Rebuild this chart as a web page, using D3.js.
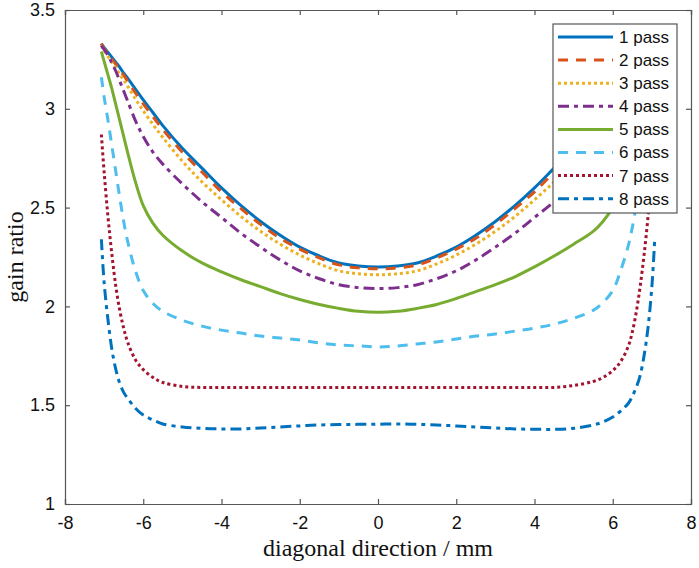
<!DOCTYPE html>
<html>
<head>
<meta charset="utf-8">
<script src="https://cdn.jsdelivr.net/npm/d3@7"></script>
<style>
  body { margin: 0; background: #fff; }
  svg { display: block; }
</style>
</head>
<body>
<script>
// chart size
var w = 699, h = 568;
var margin = { left: 65, right: 8, top: 10, bottom: 64 };

// position along the diagonal (mm)
var pos = [-7.07, -7, -6.9, -6.8, -6.7, -6.6, -6.5, -6.4, -6.2, -6, -5.75, -5.5, -5, -4.5, -4, -3.5, -3, -2.5, -2, -1.5, -1, -0.5,
           0, 0.5, 1, 1.5, 2, 2.5, 3, 3.5, 4, 4.5, 5, 5.5, 5.75, 6, 6.2, 6.4, 6.5, 6.6, 6.7, 6.8, 6.9, 7, 7.07];

// gain ratio for each pass
var pass1 = [3.33, 3.31, 3.285, 3.26, 3.235, 3.21, 3.18, 3.155, 3.10, 3.045, 2.98, 2.915, 2.80, 2.70, 2.60, 2.51, 2.43, 2.36, 2.30, 2.255, 2.22, 2.205,
             2.20, 2.205, 2.22, 2.255, 2.30, 2.36, 2.43, 2.51, 2.60, 2.70, 2.80, 2.915, 2.98, 3.045, 3.10, 3.155, 3.18, 3.21, 3.235, 3.26, 3.285, 3.31, 3.33];
var pass2 = [3.33, 3.305, 3.28, 3.25, 3.225, 3.195, 3.17, 3.14, 3.08, 3.025, 2.96, 2.895, 2.78, 2.68, 2.58, 2.495, 2.415, 2.345, 2.29, 2.245, 2.21, 2.195,
             2.19, 2.195, 2.21, 2.245, 2.29, 2.345, 2.415, 2.495, 2.58, 2.68, 2.78, 2.895, 2.96, 3.025, 3.08, 3.14, 3.17, 3.195, 3.225, 3.25, 3.28, 3.305, 3.33];
var pass3 = [3.32, 3.295, 3.265, 3.235, 3.205, 3.175, 3.145, 3.115, 3.05, 2.99, 2.92, 2.855, 2.735, 2.63, 2.54, 2.455, 2.38, 2.315, 2.26, 2.215, 2.18, 2.165,
             2.16, 2.165, 2.18, 2.215, 2.26, 2.315, 2.38, 2.455, 2.54, 2.63, 2.735, 2.855, 2.92, 2.99, 3.05, 3.115, 3.145, 3.175, 3.205, 3.235, 3.265, 3.295, 3.32];
var pass4 = [3.32, 3.30, 3.27, 3.23, 3.19, 3.14, 3.09, 3.04, 2.94, 2.86, 2.78, 2.72, 2.62, 2.53, 2.45, 2.37, 2.30, 2.235, 2.18, 2.14, 2.11, 2.095,
             2.09, 2.095, 2.11, 2.14, 2.18, 2.235, 2.30, 2.37, 2.45, 2.53, 2.62, 2.72, 2.78, 2.86, 2.94, 3.04, 3.09, 3.14, 3.19, 3.23, 3.27, 3.30, 3.32];
var pass5 = [3.29, 3.24, 3.17, 3.10, 3.02, 2.94, 2.86, 2.78, 2.63, 2.51, 2.42, 2.36, 2.28, 2.22, 2.175, 2.135, 2.10, 2.065, 2.035, 2.01, 1.99, 1.975,
             1.97, 1.975, 1.99, 2.01, 2.04, 2.075, 2.11, 2.15, 2.20, 2.255, 2.315, 2.38, 2.43, 2.50, 2.59, 2.71, 2.79, 2.88, 2.97, 3.05, 3.14, 3.22, 3.29];
var pass6 = [3.16, 3.06, 2.94, 2.81, 2.68, 2.55, 2.43, 2.33, 2.18, 2.08, 2.015, 1.975, 1.93, 1.90, 1.88, 1.865, 1.85, 1.84, 1.83, 1.815, 1.805, 1.80,
             1.795, 1.80, 1.81, 1.82, 1.835, 1.85, 1.86, 1.875, 1.89, 1.91, 1.94, 1.98, 2.02, 2.08, 2.18, 2.31, 2.40, 2.51, 2.63, 2.77, 2.91, 3.05, 3.16];
var pass7 = [2.87, 2.68, 2.45, 2.26, 2.10, 1.98, 1.89, 1.82, 1.73, 1.68, 1.64, 1.615, 1.595, 1.59, 1.59, 1.59, 1.59, 1.59, 1.59, 1.59, 1.59, 1.59,
             1.59, 1.59, 1.59, 1.59, 1.59, 1.59, 1.59, 1.59, 1.59, 1.59, 1.60, 1.62, 1.64, 1.675, 1.72, 1.80, 1.87, 1.97, 2.10, 2.26, 2.45, 2.68, 2.87];
var pass8 = [2.34, 2.12, 1.93, 1.78, 1.68, 1.61, 1.565, 1.535, 1.485, 1.45, 1.425, 1.405, 1.39, 1.383, 1.38, 1.38, 1.385, 1.39, 1.395, 1.40, 1.402, 1.403,
             1.404, 1.405, 1.403, 1.40, 1.395, 1.39, 1.385, 1.38, 1.378, 1.378, 1.383, 1.40, 1.415, 1.44, 1.47, 1.51, 1.545, 1.59, 1.65, 1.75, 1.89, 2.10, 2.33];

var names = ["1 pass", "2 pass", "3 pass", "4 pass", "5 pass", "6 pass", "7 pass", "8 pass"];
var values = [pass1, pass2, pass3, pass4, pass5, pass6, pass7, pass8];

var xTicks = [-8, -6, -4, -2, 0, 2, 4, 6, 8];
var yTicks = [1, 1.5, 2, 2.5, 3, 3.5];

// line look per pass (matlab default colours)
var colors = ["#0072BD", "#D95319", "#EDB120", "#7E2F8E", "#77AC30", "#4DBEEE", "#A2142F", "#0072BD"];
var dashes = ["none", "10,8", "3,3", "11,5,4,5", "none", "10,8", "3,3", "11,5,4,5"];

var svg = d3.select("body").append("svg").attr("width", w).attr("height", h);

var x = d3.scaleLinear().domain([-8, 8]).range([margin.left, w - margin.right]);
var y = d3.scaleLinear().domain([1, 3.5]).range([h - margin.bottom, margin.top]);

var axisColor = "#555";
var plain = function (d) { return String(d); }; // hyphen minus like the original

// axes with inward ticks
var gx = svg.append("g").attr("transform", "translate(0," + y(1) + ")")
  .call(d3.axisBottom(x).tickValues(xTicks).tickSize(-5).tickPadding(12).tickFormat(plain));
var gy = svg.append("g").attr("transform", "translate(" + x(-8) + ",0)")
  .call(d3.axisLeft(y).tickValues(yTicks).tickSize(-5).tickPadding(10).tickFormat(plain));
var gt = svg.append("g").attr("transform", "translate(0," + y(3.5) + ")")
  .call(d3.axisTop(x).tickValues(xTicks).tickSize(-5).tickFormat(""));
var gr = svg.append("g").attr("transform", "translate(" + x(8) + ",0)")
  .call(d3.axisRight(y).tickValues(yTicks).tickSize(-5).tickFormat(""));

[gx, gy, gt, gr].forEach(function (g) {
  g.selectAll("path, line").attr("stroke", axisColor).attr("stroke-width", 1.2);
  g.selectAll("text").attr("fill", "#111").style("font-family", "Liberation Sans, Arial, sans-serif").style("font-size", "18px");
});

// curves
var line = d3.line()
  .x(function (d) { return x(d[0]); })
  .y(function (d) { return y(d[1]); })
  .curve(d3.curveCatmullRom.alpha(0.5));

values.forEach(function (v, i) {
  var pts = pos.map(function (p, j) { return [p, v[j]]; });
  svg.append("path")
    .datum(pts)
    .attr("d", line)
    .attr("fill", "none")
    .attr("stroke", colors[i])
    .attr("stroke-width", 3)
    .attr("stroke-dasharray", dashes[i]);
});

// axis titles
svg.append("text")
  .attr("x", x(0)).attr("y", 556)
  .attr("text-anchor", "middle")
  .style("font-family", "Liberation Serif, Times New Roman, serif")
  .style("font-size", "24px")
  .attr("fill", "#111")
  .text("diagonal direction / mm");

svg.append("text")
  .attr("transform", "translate(23," + y(2.25) + ") rotate(-90)")
  .attr("text-anchor", "middle")
  .style("font-family", "Liberation Serif, Times New Roman, serif")
  .style("font-size", "24px")
  .attr("fill", "#111")
  .text("gain ratio");

// legend
var lg = svg.append("g").attr("transform", "translate(553,24)");
lg.append("rect").attr("width", 124).attr("height", 189)
  .attr("fill", "#fff").attr("stroke", axisColor).attr("stroke-width", 1.2);

var item = lg.selectAll("g.item").data(names).enter().append("g")
  .attr("class", "item")
  .attr("transform", function (d, i) { return "translate(0," + (13 + i * 23.1) + ")"; });

item.append("line")
  .attr("x1", 5).attr("x2", 60)
  .attr("stroke", function (d, i) { return colors[i]; })
  .attr("stroke-width", 3)
  .attr("stroke-dasharray", function (d, i) { return dashes[i]; });

item.append("text")
  .attr("x", 66).attr("dy", "0.35em")
  .style("font-family", "Liberation Sans, Arial, sans-serif")
  .style("font-size", "17px")
  .attr("fill", "#111")
  .text(function (d) { return d; });
</script>
</body>
</html>
